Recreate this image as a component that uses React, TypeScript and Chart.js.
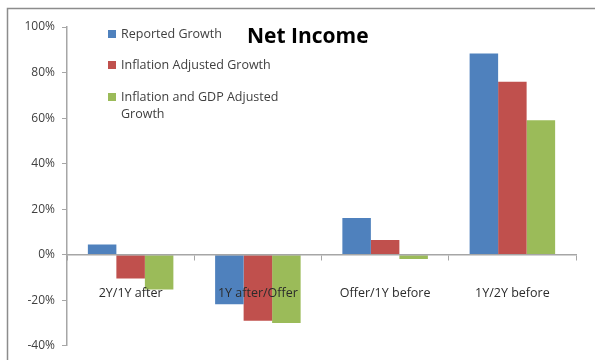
import React, { useEffect, useRef } from "react";
import { Chart, registerables } from "chart.js";

Chart.register(...registerables);

const categories = ["2Y/1Y after", "1Y after/Offer", "Offer/1Y before", "1Y/2Y before"];
const reportedGrowth = [4.5, -21.7, 16.1, 88.4];
const inflationAdjusted = [-10.5, -29, 6.5, 76];
const inflationGdpAdjusted = [-15.3, -30, -1.9, 59];
const seriesNames = ["Reported Growth", "Inflation Adjusted Growth", ["Inflation and GDP Adjusted", "Growth"]];
const seriesColors = ["#4F81BD", "#C0504D", "#9BBB59"];
const yTicks = { min: -40, max: 100, step: 20 };
const titleText = "Net Income";

const FONT = "'Open Sans', sans-serif";

const decorPlugin = {
  id: "decor",
  afterDraw(chart: any) {
    const ctx = chart.ctx;
    ctx.save();
    // frame
    ctx.strokeStyle = "#8c8c8c";
    ctx.lineWidth = 1.5;
    ctx.beginPath();
    ctx.moveTo(7.5, 360);
    ctx.lineTo(7.5, 8.5);
    ctx.lineTo(595, 8.5);
    ctx.stroke();
    // title
    ctx.fillStyle = "#000";
    ctx.font = `bold 21px ${FONT}`;
    ctx.textBaseline = "middle";
    ctx.textAlign = "left";
    ctx.fillText(titleText, 247, 37);
    // legend
    const rows = [34, 65, 97];
    ctx.font = `12.5px ${FONT}`;
    seriesNames.forEach((name, i) => {
      ctx.fillStyle = seriesColors[i];
      ctx.fillRect(108, rows[i] - 4, 8, 8);
      ctx.fillStyle = "#404040";
      const lines = Array.isArray(name) ? name : [name];
      lines.forEach((ln, j) => ctx.fillText(ln, 121, rows[i] + j * 17));
    });
    ctx.restore();
  },
};

export default function App() {
  const ref = useRef<HTMLCanvasElement>(null);
  useEffect(() => {
    if (!ref.current) return;
    const chart = new Chart(ref.current, {
      type: "bar",
      data: {
        labels: categories,
        datasets: [
          { label: "Reported Growth", data: reportedGrowth, backgroundColor: seriesColors[0] },
          { label: "Inflation Adjusted Growth", data: inflationAdjusted, backgroundColor: seriesColors[1] },
          { label: "Inflation and GDP Adjusted Growth", data: inflationGdpAdjusted, backgroundColor: seriesColors[2] },
        ],
      },
      options: {
        responsive: false,
        animation: false,
        layout: { padding: { top: 27, bottom: 12, left: 0, right: 19 } },
        datasets: { bar: { categoryPercentage: 0.672, barPercentage: 1 } },
        plugins: { legend: { display: false }, title: { display: false }, tooltip: { enabled: false } },
        scales: {
          x: {
            position: { y: 0 } as any,
            offset: true,
            grid: { offset: true, drawOnChartArea: false, drawTicks: true, tickLength: 5, color: "#a6a6a6" },
            border: { display: true, color: "#a6a6a6", width: 1.5, z: 1 } as any,
            ticks: {
              z: 2,
              autoSkip: false,
              maxRotation: 0,
              minRotation: 0,
              padding: 26,
              color: "#2b2b2b",
              font: { family: FONT, size: 12.5 },
            } as any,
          },
          y: {
            min: yTicks.min,
            max: yTicks.max,
            afterFit: (s: any) => { s.width = 67; },
            grid: { drawOnChartArea: false, drawTicks: true, tickLength: 5, color: "#a6a6a6" },
            border: { display: true, color: "#a6a6a6", width: 1.5 },
            ticks: {
              stepSize: yTicks.step,
              padding: 7,
              color: "#404040",
              font: { family: FONT, size: 12 },
              callback: (v: any) => `${v}%`,
            },
          },
        },
      },
      plugins: [decorPlugin],
    });
    return () => chart.destroy();
  }, []);
  return (
    <div style={{ position: "absolute", left: 0, top: 0, width: 595, height: 360, background: "#fff" }}>
      <canvas ref={ref} width={595} height={360} />
    </div>
  );
}
